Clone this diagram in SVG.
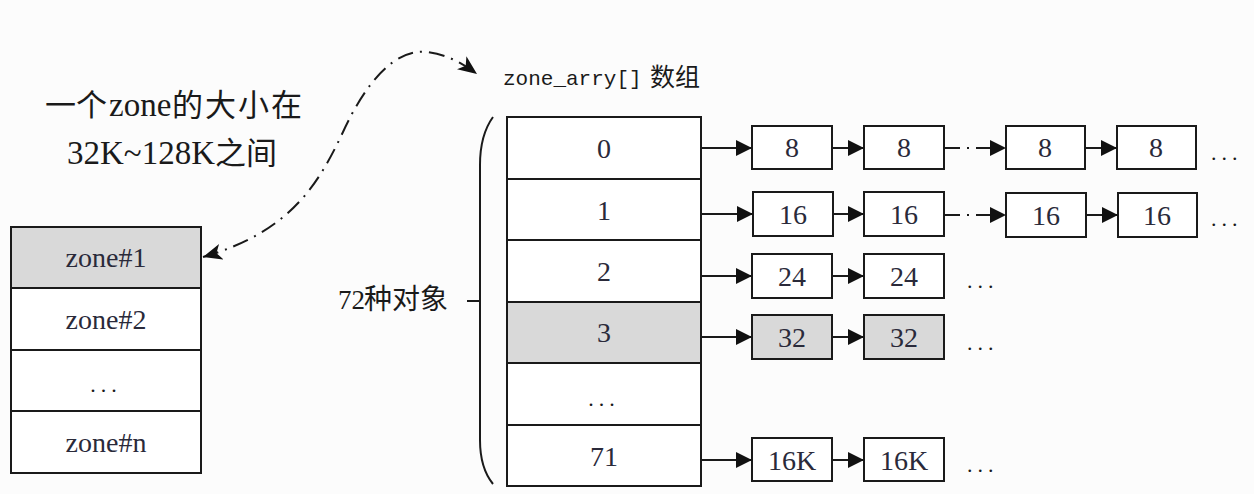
<svg xmlns="http://www.w3.org/2000/svg" width="1254" height="494" viewBox="0 0 1254 494">
<defs>
<style>
.box{fill:#ffffff;stroke:#1a1a1a;stroke-width:2}
.gray{fill:#d9d9d9}
.t{font-family:"Liberation Serif",serif;fill:#2a2a3a;text-anchor:middle}
.num{font-size:28px}
.lat{font-family:"Liberation Serif",serif;fill:#1a1a1a}
.cjk{font-family:"Noto Sans CJK SC",sans-serif;fill:#1a1a1a}
.dots{font-family:"Liberation Serif",serif;font-size:22px;fill:#1a1a1a;letter-spacing:5px}
.c{stroke:#1a1a1a;stroke-width:2;fill:none}
.dd{stroke-dasharray:16 7 2 7}
</style>
<marker id="ah" markerWidth="16" markerHeight="18" refX="16" refY="9" orient="auto" markerUnits="userSpaceOnUse">
<path d="M0,1 L16,9 L0,17 Z" fill="#111"/>
</marker>
<marker id="ah2" markerWidth="20" markerHeight="16" refX="19" refY="8" orient="auto-start-reverse" markerUnits="userSpaceOnUse">
<path d="M0,0 L19,8 L0,16 L5,8 Z" fill="#111"/>
</marker>
</defs>
<rect width="1254" height="494" fill="#fcfcfc"/>

<g id="caption">
<text class="cjk" x="45" y="116" font-size="31">一个</text>
<text class="lat" x="109" y="116" font-size="33" font-family="Liberation Serif, serif">zone</text>
<text class="cjk" x="172" y="116" font-size="31" letter-spacing="2">的大小在</text>
<text class="lat" x="67" y="164" font-size="33" font-family="Liberation Serif, serif">32K~128K</text>
<text class="cjk" x="215" y="164" font-size="31">之间</text>
</g>

<g id="title">
<text x="503" y="85" font-family="Liberation Mono, monospace" font-size="21" fill="#1a1a1a">zone_arry[]</text>
<text class="cjk" x="650" y="86" font-size="25">数组</text>
</g>

<g id="zones">
<rect class="box gray" x="11" y="227" width="190" height="61"/>
<rect class="box" x="11" y="288" width="190" height="62"/>
<rect class="box" x="11" y="350" width="190" height="61"/>
<rect class="box" x="11" y="411" width="190" height="62"/>
<text class="t num" x="106" y="267">zone#1</text>
<text class="t num" x="106" y="329">zone#2</text>
<text class="dots" x="106" y="392" text-anchor="middle">...</text>
<text class="t num" x="106" y="452">zone#n</text>
</g>

<g id="brace">
<path class="c" d="M493,117 Q480,135 480,165 L480,440 Q480,468 493,484" stroke-width="1.6"/>
<line class="c" x1="467" y1="301" x2="480" y2="301" stroke-width="1.6"/>
<text class="lat" x="338" y="309" font-size="27" font-family="Liberation Serif, serif">72</text>
<text class="cjk" x="364" y="309" font-size="28">种对象</text>
</g>

<g id="array">
<rect class="box" x="507" y="117" width="194" height="62"/>
<rect class="box" x="507" y="179" width="194" height="61"/>
<rect class="box" x="507" y="240" width="194" height="62"/>
<rect class="box gray" x="507" y="302" width="194" height="61"/>
<rect class="box" x="507" y="363" width="194" height="62"/>
<rect class="box" x="507" y="425" width="194" height="61"/>
<text class="t num" x="604" y="158">0</text>
<text class="t num" x="604" y="220">1</text>
<text class="t num" x="604" y="281">2</text>
<text class="t num" x="604" y="342">3</text>
<text class="dots" x="604" y="406" text-anchor="middle">...</text>
<text class="t num" x="604" y="466">71</text>
</g>

<g id="row0">
<rect class="box" x="752" y="126" width="80" height="43"/>
<rect class="box" x="864" y="126" width="80" height="43"/>
<rect class="box" x="1006" y="126" width="79" height="43"/>
<rect class="box" x="1117" y="126" width="79" height="43"/>
<text class="t num" x="792" y="157">8</text>
<text class="t num" x="904" y="157">8</text>
<text class="t num" x="1045" y="157">8</text>
<text class="t num" x="1156" y="157">8</text>
<text class="dots" x="1211" y="160">...</text>
</g>

<g id="row1">
<rect class="box" x="753" y="192" width="80" height="44"/>
<rect class="box" x="864" y="192" width="80" height="44"/>
<rect class="box" x="1006" y="193" width="80" height="44"/>
<rect class="box" x="1118" y="193" width="79" height="44"/>
<text class="t num" x="793" y="224">16</text>
<text class="t num" x="904" y="224">16</text>
<text class="t num" x="1046" y="225">16</text>
<text class="t num" x="1157" y="225">16</text>
<text class="dots" x="1211" y="226">...</text>
</g>

<g id="row2">
<rect class="box" x="752" y="254" width="80" height="44"/>
<rect class="box" x="864" y="254" width="80" height="44"/>
<text class="t num" x="792" y="286">24</text>
<text class="t num" x="904" y="286">24</text>
<text class="dots" x="967" y="288">...</text>
</g>

<g id="row3">
<rect class="box gray" x="752" y="315" width="80" height="44"/>
<rect class="box gray" x="864" y="315" width="80" height="44"/>
<text class="t num" x="792" y="347">32</text>
<text class="t num" x="904" y="347">32</text>
<text class="dots" x="967" y="350">...</text>
</g>

<g id="row71">
<rect class="box" x="752" y="438" width="80" height="43"/>
<rect class="box" x="864" y="438" width="80" height="43"/>
<text class="t num" x="792" y="470">16K</text>
<text class="t num" x="904" y="470">16K</text>
<text class="dots" x="967" y="472">...</text>
</g>

<g id="connectors">
<path class="c dd" d="M203,257 C290,232 318,185 343,132 C366,82 395,48 428,52 C448,55 462,63 477,74" marker-start="url(#ah2)" marker-end="url(#ah2)" stroke-width="1.6"/>
<line class="c" x1="701" y1="148" x2="752" y2="148" marker-end="url(#ah)"/>
<line class="c" x1="832" y1="148" x2="864" y2="148" marker-end="url(#ah)"/>
<line class="c dd" x1="944" y1="148" x2="1006" y2="148" marker-end="url(#ah)"/>
<line class="c" x1="1085" y1="148" x2="1117" y2="148" marker-end="url(#ah)"/>
<line class="c" x1="701" y1="214" x2="753" y2="214" marker-end="url(#ah)"/>
<line class="c" x1="833" y1="214" x2="864" y2="214" marker-end="url(#ah)"/>
<line class="c dd" x1="944" y1="215" x2="1006" y2="215" marker-end="url(#ah)"/>
<line class="c" x1="1086" y1="215" x2="1118" y2="215" marker-end="url(#ah)"/>
<line class="c" x1="701" y1="276" x2="752" y2="276" marker-end="url(#ah)"/>
<line class="c" x1="832" y1="276" x2="864" y2="276" marker-end="url(#ah)"/>
<line class="c" x1="701" y1="337" x2="752" y2="337" marker-end="url(#ah)"/>
<line class="c" x1="832" y1="337" x2="864" y2="337" marker-end="url(#ah)"/>
<line class="c" x1="701" y1="460" x2="752" y2="460" marker-end="url(#ah)"/>
<line class="c" x1="832" y1="460" x2="864" y2="460" marker-end="url(#ah)"/>
</g>
</svg>
